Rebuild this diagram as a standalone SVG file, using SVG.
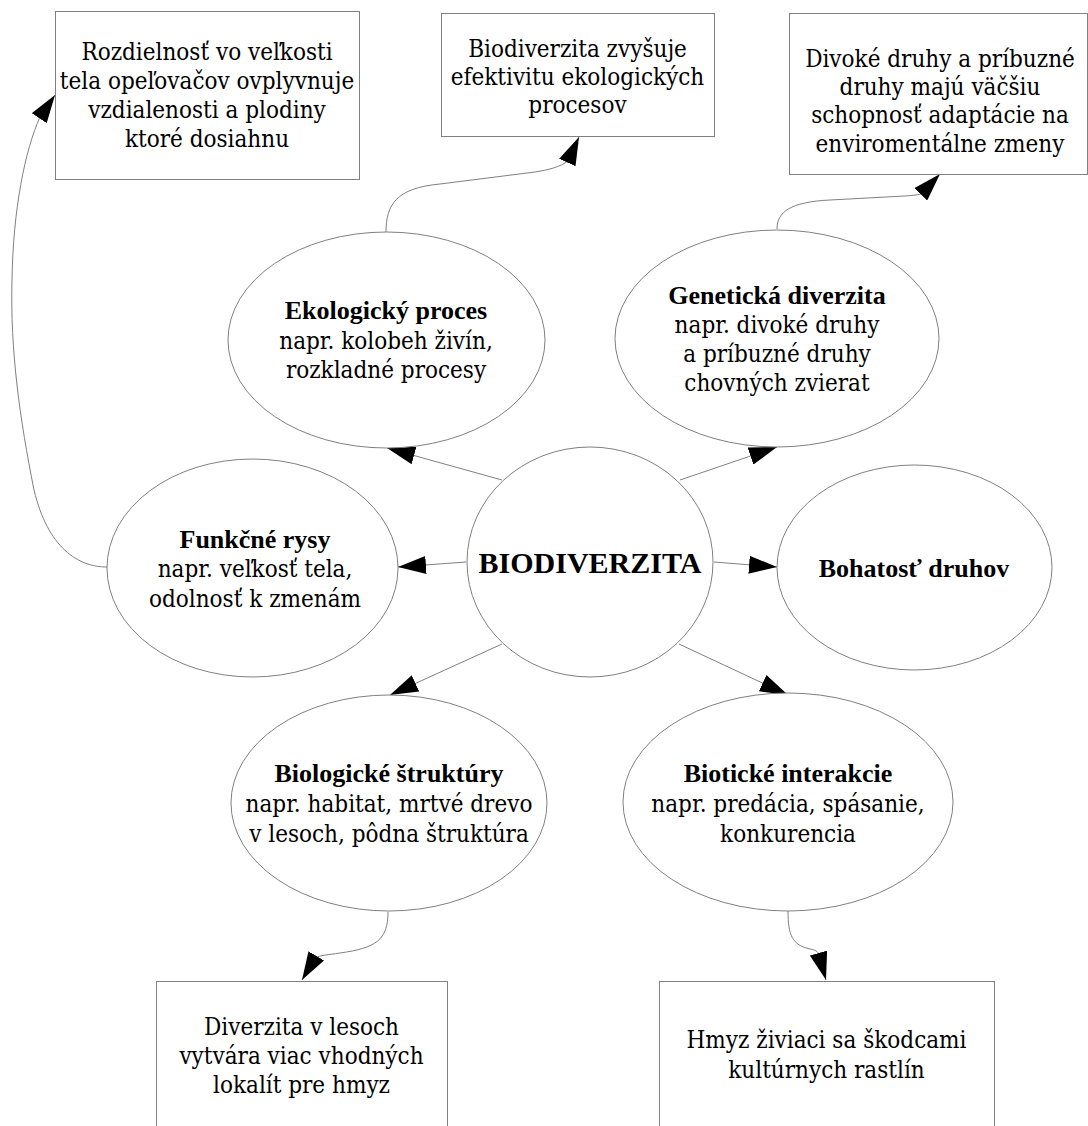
<svg xmlns="http://www.w3.org/2000/svg" width="1088" height="1126" viewBox="0 0 1088 1126">
<style>
.bg{fill:#fff}
.shape{fill:#fff;stroke:#808080;stroke-width:1}
.edge{fill:none;stroke:#808080;stroke-width:1}
text{font-family:"DejaVu Serif Condensed","DejaVu Serif","Liberation Serif",serif;font-size:24px;fill:#000;text-anchor:middle}
.b{font-family:"Liberation Serif","DejaVu Serif Condensed",serif;font-size:26px;font-weight:bold}
.big{font-family:"Liberation Serif","DejaVu Serif Condensed",serif;font-size:30px;font-weight:bold}
</style>
<defs>
<marker id="arr" markerUnits="userSpaceOnUse" markerWidth="28" markerHeight="18" viewBox="0 0 28 18" refX="28" refY="9" orient="auto">
<path d="M0,0 L28,9 L0,18 z" fill="#000"/>
</marker>
</defs>
<rect class="bg" x="0" y="0" width="1088" height="1126"/>

<g id="connectors">
<path class="edge" marker-end="url(#arr)" d="M502,480 L387,448"/>
<path class="edge" marker-end="url(#arr)" d="M680,480 L777,447"/>
<path class="edge" marker-end="url(#arr)" d="M466,562 L398,567"/>
<path class="edge" marker-end="url(#arr)" d="M714,562 L777,567"/>
<path class="edge" marker-end="url(#arr)" d="M502,644 L390,695"/>
<path class="edge" marker-end="url(#arr)" d="M679,644 L788,695"/>
<path class="edge" marker-end="url(#arr)" d="M386,232 C386,205 396,188 440,184 L535,172 C548,170 560,167 568,161 L579,137"/>
<path class="edge" marker-end="url(#arr)" d="M777,229 C777,212 790,202 830,200 L905,196 C912,195.5 917,195 921,194 L940,174"/>
<path class="edge" marker-end="url(#arr)" d="M107,567 C78,567 48,548 34,490 C20,420 10,350 12,280 C13,210 25,150 40,117 L55,95"/>
<path class="edge" marker-end="url(#arr)" d="M388,912 C388,940 376,948 340,953 C328,955 320,955 315,958 L302,980"/>
<path class="edge" marker-end="url(#arr)" d="M788,911 C788,935 792,945 810,949 C815,950 818,951 819,955 L826,980"/>
</g>

<g id="node-biodiverzita">
<ellipse class="shape" cx="590" cy="562" rx="123" ry="115"/>
<text class="big" x="590" y="573">BIODIVERZITA</text>
</g>

<g id="node-ekologicky">
<ellipse class="shape" cx="386.5" cy="340" rx="158.5" ry="108"/>
<text class="b" x="386" y="319">Ekologický proces</text>
<text x="386" y="349">napr. kolobeh živín,</text>
<text x="386" y="378">rozkladné procesy</text>
</g>

<g id="node-geneticka">
<ellipse class="shape" cx="777" cy="338.5" rx="162" ry="108.5"/>
<text class="b" x="777" y="304">Genetická diverzita</text>
<text x="777" y="333">napr. divoké druhy</text>
<text x="777" y="362">a príbuzné druhy</text>
<text x="777" y="391">chovných zvierat</text>
</g>

<g id="node-funkcne">
<ellipse class="shape" cx="252.5" cy="568" rx="145.5" ry="109"/>
<text class="b" x="255" y="548">Funkčné rysy</text>
<text x="255" y="577">napr. veľkosť tela,</text>
<text x="255" y="607">odolnosť k zmenám</text>
</g>

<g id="node-bohatost">
<ellipse class="shape" cx="914.5" cy="567.5" rx="137.5" ry="102.5"/>
<text class="b" x="914" y="577">Bohatosť druhov</text>
</g>

<g id="node-biologicke">
<ellipse class="shape" cx="389" cy="803" rx="158" ry="108"/>
<text class="b" x="389" y="782">Biologické štruktúry</text>
<text x="389" y="812">napr. habitat, mrtvé drevo</text>
<text x="389" y="842">v lesoch, pôdna štruktúra</text>
</g>

<g id="node-bioticke">
<ellipse class="shape" cx="788" cy="802" rx="165" ry="109"/>
<text class="b" x="788" y="782">Biotické interakcie</text>
<text x="788" y="812">napr. predácia, spásanie,</text>
<text x="788" y="842">konkurencia</text>
</g>

<g id="box-rozdielnost">
<rect class="shape" x="55.5" y="11.5" width="304" height="168"/>
<text x="207" y="60">Rozdielnosť vo veľkosti</text>
<text x="207" y="89">tela opeľovačov ovplyvnuje</text>
<text x="207" y="118">vzdialenosti a plodiny</text>
<text x="207" y="147">ktoré dosiahnu</text>
</g>

<g id="box-efektivita">
<rect class="shape" x="441.5" y="13.5" width="273" height="123"/>
<text x="577.5" y="57">Biodiverzita zvyšuje</text>
<text x="577.5" y="85">efektivitu ekologických</text>
<text x="577.5" y="113">procesov</text>
</g>

<g id="box-adaptacia">
<rect class="shape" x="789.5" y="13.5" width="298" height="161"/>
<text x="940" y="67">Divoké druhy a príbuzné</text>
<text x="940" y="95">druhy majú väčšiu</text>
<text x="940" y="123">schopnosť adaptácie na</text>
<text x="940" y="152">enviromentálne zmeny</text>
</g>

<g id="box-lesy">
<rect class="shape" x="156.5" y="981.5" width="291" height="160"/>
<text x="301.5" y="1035">Diverzita v lesoch</text>
<text x="301.5" y="1064">vytvára viac vhodných</text>
<text x="301.5" y="1093">lokalít pre hmyz</text>
</g>

<g id="box-hmyz">
<rect class="shape" x="659.5" y="981.5" width="335" height="160"/>
<text x="826.5" y="1048">Hmyz živiaci sa škodcami</text>
<text x="826.5" y="1078">kultúrnych rastlín</text>
</g>
</svg>
